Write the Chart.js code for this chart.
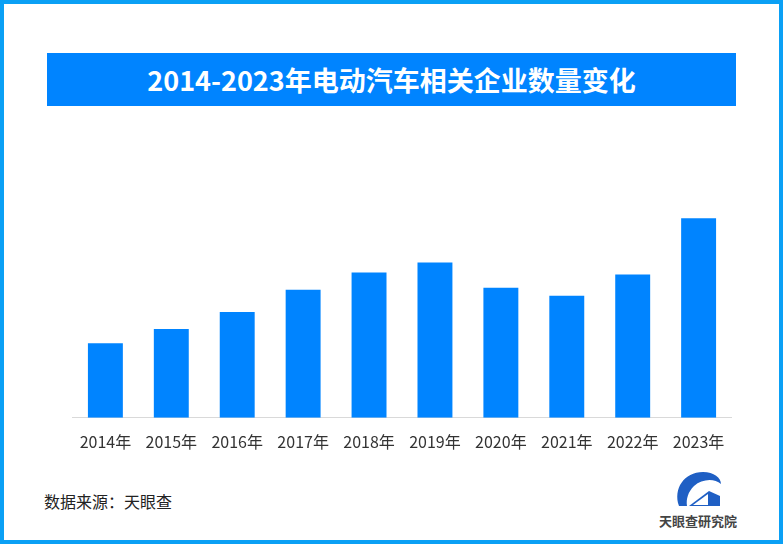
<!DOCTYPE html>
<html>
<head>
<meta charset="utf-8">
<script src="https://cdn.jsdelivr.net/npm/chart.js@4.4.0/dist/chart.umd.min.js"></script>
<style>
  html, body { margin: 0; padding: 0; background: #fff; }
  body { width: 783px; height: 544px; position: relative; overflow: hidden; font-family: "Noto Sans CJK SC", "Noto Sans", sans-serif; }
  .frame { position: absolute; left: 0; top: 0; width: 775px; height: 536px; border: 4px solid #0aa0f5; }
  .banner { position: absolute; left: 47px; top: 53px; width: 689px; height: 53px; background: #0084ff; color: #fff;
    font-weight: bold; font-size: 27px; line-height: 53px; text-align: center; }
  .chart-box { position: absolute; left: 65px; top: 200px; width: 674px; height: 267px; }
  .source { position: absolute; left: 44px; top: 489px; font-size: 16px; color: #222; }
  .logo { position: absolute; left: 654px; top: 468px; width: 88px; height: 66px; }
  .logo-text { position: absolute; left: 0; top: 43px; width: 88px; text-align: center; font-size: 13px; font-weight: bold; color: #444; }
</style>
</head>
<body>
<div class="frame"></div>
<div class="banner">2014-2023年电动汽车相关企业数量变化</div>
<div class="chart-box"><canvas id="bar"></canvas></div>
<div class="source">数据来源：天眼查</div>
<div class="logo">
  <svg width="88" height="44" viewBox="0 0 88 44">
    <!-- 弧形 -->
    <path d="M25 38 C19 21 30 4 49 4 C60 4 67 10 67 16 C60 10 48 11 40 18 C34 24 32 31 33 38 Z" fill="#1f5fc4"/>
    <!-- 房子 -->
    <path d="M35 38 L55 23 L66 28 L66 38 Z" fill="#1f5fc4"/>
    <path d="M39 37 L54 26 L54 37 Z" fill="#fff"/>
  </svg>
  <div class="logo-text">天眼查研究院</div>
</div>
<script>
  // 年份与企业数量（相对值，从图上估读）
  const years = ['2014年', '2015年', '2016年', '2017年', '2018年', '2019年', '2020年', '2021年', '2022年', '2023年'];
  const counts = [74, 88, 105, 127, 144, 154, 129, 121, 142, 198];

  const ctx = document.getElementById('bar').getContext('2d');
  new Chart(ctx, {
    type: 'bar',
    data: {
      labels: years,
      datasets: [{
        data: counts,
        backgroundColor: '#0084ff',
        borderWidth: 0,
        barPercentage: 0.53,
        categoryPercentage: 1.0,
      }],
    },
    options: {
      responsive: true,
      maintainAspectRatio: false,
      animation: false,
      layout: { padding: 0 },
      plugins: {
        legend: { display: false },
        tooltip: { enabled: false },
      },
      scales: {
        y: { display: false, min: 0, max: 216 },
        x: {
          grid: { display: false, drawTicks: false },
          border: { display: true, color: '#d9d9d9', width: 1 },
          ticks: {
            color: '#333',
            padding: 15,
            maxRotation: 0,
            font: { family: '"Noto Sans CJK SC", sans-serif', size: 16 },
          },
        },
      },
    },
  });
</script>
</body>
</html>
